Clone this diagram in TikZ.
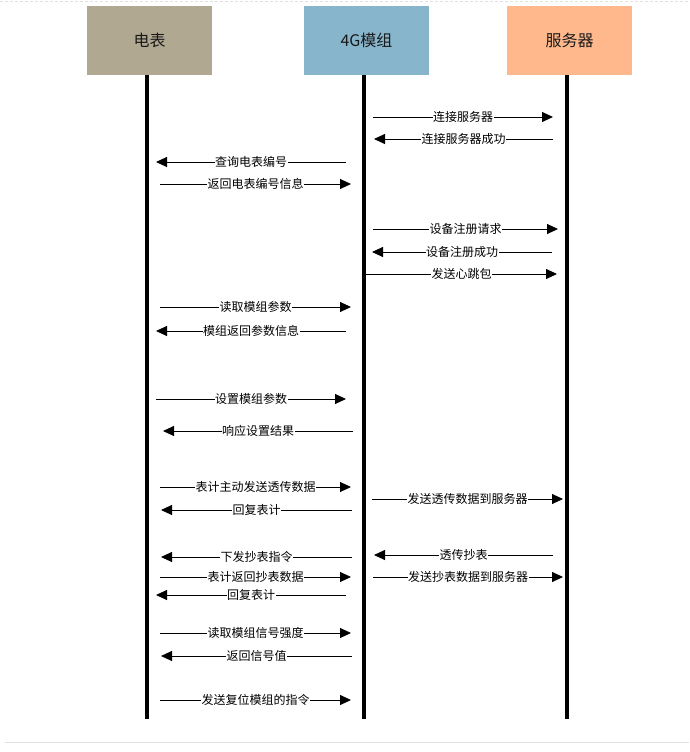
\documentclass[tikz,border=0pt]{standalone}
\usepackage{fontspec}
\setmainfont{Noto Sans CJK SC}
\usetikzlibrary{arrows.meta}
\definecolor{meterc}{RGB}{176,168,144}
\definecolor{modc}{RGB}{135,181,203}
\definecolor{servc}{RGB}{255,184,140}
\definecolor{framec}{RGB}{224,224,224}
\tikzset{
  actorbox/.style={rectangle, draw=none, minimum width=125pt, minimum height=69pt, inner sep=0pt, font=\fontsize{16}{18}\selectfont, text=black!90},
  lifeline/.style={line width=3.2pt, black},
  msg/.style={line width=0.9pt, black, -{Triangle[length=11pt,width=10pt]}},
  lbl/.style={fill=white, inner sep=0.5pt, font=\fontsize{12}{14}\selectfont, text=black},
  frameline/.style={framec, line width=1pt}
}
\newcommand{\seqmsg}[5]{%
  \coordinate (#1s) at (#2,#4);
  \coordinate (#1e) at (#3,#4);
  \draw[msg] (#1s) -- node[lbl]{#5} (#1e);
}
\begin{document}
\begin{tikzpicture}[x=1pt,y=-1pt]
\useasboundingbox (0,0) rectangle (689,752);
% frame lines
\coordinate (ftl) at (0,2); \coordinate (ftr) at (689,2);
\draw[frameline, dash pattern=on 3pt off 2pt] (ftl) -- (ftr);
\coordinate (fbl) at (5,742); \coordinate (fbr) at (689,742);
\draw[frameline] (fbl) -- (fbr);
% actors
\node[actorbox, fill=meterc] (meter) at (149.5,40.5) {电表};
\node[actorbox, fill=modc] (module) at (366.5,40.5) {4G模组};
\node[actorbox, fill=servc] (server) at (569.5,40.5) {服务器};
% lifelines
\coordinate (meterTop) at (147,75); \coordinate (meterBot) at (147,719);
\coordinate (modTop) at (364,75); \coordinate (modBot) at (364,719);
\coordinate (servTop) at (567,75); \coordinate (servBot) at (567,719);
\draw[lifeline] (meterTop) -- (meterBot);
\draw[lifeline] (modTop) -- (modBot);
\draw[lifeline] (servTop) -- (servBot);
% messages
\seqmsg{m1}{373}{553}{117}{连接服务器}
\seqmsg{m2}{553}{374}{139}{连接服务器成功}
\seqmsg{m3}{346}{156}{162}{查询电表编号}
\seqmsg{m4}{160}{351}{184}{返回电表编号信息}
\seqmsg{m5}{373}{558}{229}{设备注册请求}
\seqmsg{m6}{552}{372}{252}{设备注册成功}
\seqmsg{m7}{366}{557}{274}{发送心跳包}
\seqmsg{m8}{160}{351}{307}{读取模组参数}
\seqmsg{m9}{346}{156}{331}{模组返回参数信息}
\seqmsg{m10}{156}{346}{399}{设置模组参数}
\seqmsg{m11}{353}{163}{431}{响应设置结果}
\seqmsg{m12}{160}{351}{487}{表计主动发送透传数据}
\seqmsg{m13}{372}{563}{499}{发送透传数据到服务器}
\seqmsg{m14}{352}{161}{510}{回复表计}
\seqmsg{m15}{352}{161}{557}{下发抄表指令}
\seqmsg{m16}{553}{374}{555}{透传抄表}
\seqmsg{m17}{160}{351}{577}{表计返回抄表数据}
\seqmsg{m18}{373}{563}{577}{发送抄表数据到服务器}
\seqmsg{m19}{346}{156}{595}{回复表计}
\seqmsg{m20}{160}{351}{633}{读取模组信号强度}
\seqmsg{m21}{352}{161}{656}{返回信号值}
\seqmsg{m22}{160}{351}{700}{发送复位模组的指令}
\end{tikzpicture}
\end{document}
